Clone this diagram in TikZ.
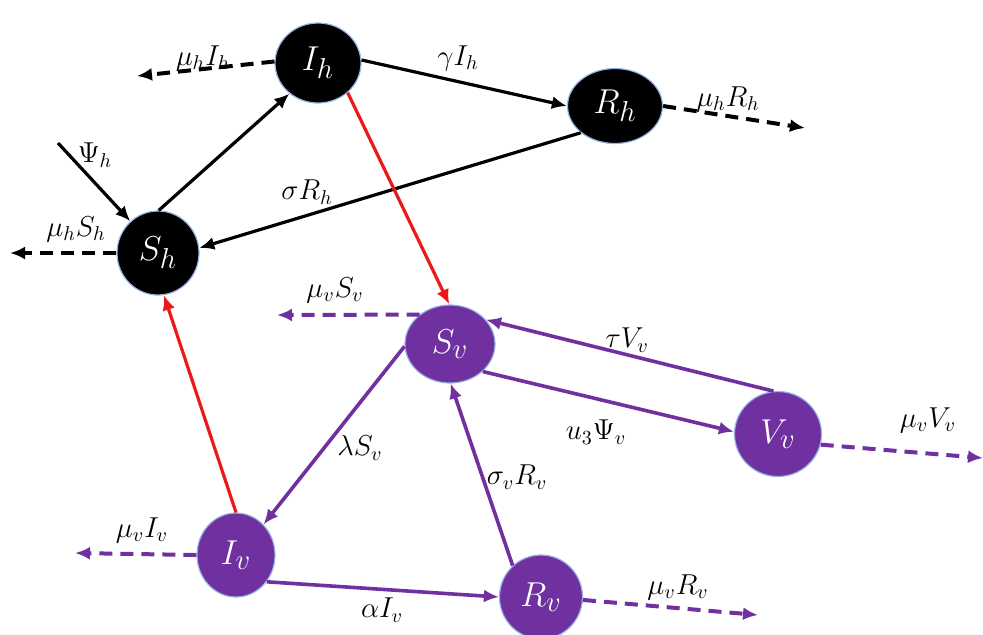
\documentclass[tikz,border=0pt]{standalone}
\usetikzlibrary{arrows.meta,shapes.geometric}
\definecolor{vpurple}{RGB}{112,48,160}
\definecolor{rimblue}{RGB}{150,180,225}
\definecolor{lred}{RGB}{235,25,25}
\begin{document}
\begin{tikzpicture}[x=0.5pt,y=-0.5pt,
  comp/.style={ellipse,inner sep=0pt,draw=rimblue,line width=0.6pt,text=white,font=\fontsize{19}{22}\selectfont},
  hnode/.style={comp,fill=black},
  vnode/.style={comp,fill=vpurple},
  tip/.style={-{Latex[length=7.5pt,width=6.5pt]}},
  hflow/.style={tip,line width=1.6pt,black},
  vflow/.style={tip,line width=1.8pt,vpurple},
  rflow/.style={tip,line width=1.6pt,lred},
  hout/.style={tip,line width=2pt,black,dash pattern=on 6.5pt off 4pt},
  vout/.style={tip,line width=2pt,vpurple,dash pattern=on 6.5pt off 4pt},
  lab/.style={inner sep=0pt,font=\fontsize{14.5}{17}\selectfont}
]
\useasboundingbox (0,0) rectangle (983,634);
% nodes
\node[hnode,minimum width=43pt,minimum height=40pt] (Ih) at (318,63) {$I_h$};
\node[hnode,minimum width=47.5pt,minimum height=37.5pt] (Rh) at (615,106) {$R_h$};
\node[hnode,minimum width=41pt,minimum height=42pt] (Sh) at (158,253) {$S_h$};
\node[vnode,minimum width=45pt,minimum height=39pt] (Sv) at (450,344) {$S_v$};
\node[vnode,minimum width=43.5pt,minimum height=42.5pt] (Vv) at (778,434) {$V_v$};
\node[vnode,minimum width=39pt,minimum height=42pt] (Iv) at (236,555) {$I_v$};
\node[vnode,minimum width=41.5pt,minimum height=42pt] (Rv) at (541,597) {$R_v$};
% free ends
\coordinate (psiS) at (58,143);
\coordinate (oSh) at (10,253);
\coordinate (oIh) at (137,76);
\coordinate (oRh) at (805,128);
\coordinate (oSv) at (277,315);
\coordinate (oVv) at (983,458);
\coordinate (oIv) at (75,553);
\coordinate (oRv) at (758,615);
% human flows
\draw[hflow] (Sh.89) -- (Ih.227);
\draw[hflow] (Ih.4) -- (Rh.180);
\draw[hflow] (Rh.218) -- (Sh.7);
\draw[hflow] (psiS) -- (Sh.131);
\draw[hout] (Sh.180) -- (oSh);
\draw[hout] (Ih.178) -- (oIh);
\draw[hout] (Rh.0) -- (oRh);
% red infection links
\draw[rflow] (Ih.315) -- (Sv.91);
\draw[rflow] (Iv.90) -- (Sh.278);
% vector flows
\draw[vflow] (Vv.96) -- (Sv.34);
\draw[vflow] (Sv.320) -- (Vv.177);
\draw[vflow] (Sv.183) -- (Iv.48);
\draw[vflow] (Rv.132) -- (Sv.271);
\draw[vflow] (Iv.319) -- (Rv.180);
\draw[vout] (Sv.136) -- (oSv);
\draw[vout] (Vv.346) -- (oVv);
\draw[vout] (Iv.180) -- (oIv);
\draw[vout] (Rv.356) -- (oRv);
% labels
\node[lab] (lpsi) at (95,155) {$\Psi_h$};
\node[lab] (lmSh) at (76,229) {$\mu_h S_h$};
\node[lab] (lmIh) at (203,58) {$\mu_h I_h$};
\node[lab] (lgIh) at (458,58) {$\gamma I_h$};
\node[lab] (lmRh) at (728,99) {$\mu_h R_h$};
\node[lab] (lsRh) at (307,192) {$\sigma R_h$};
\node[lab] (lmSv) at (335,290) {$\mu_v S_v$};
\node[lab] (ltVv) at (627,340) {$\tau V_v$};
\node[lab] (luPv) at (596,432) {$u_3\Psi_v$};
\node[lab] (lmVv) at (928,420) {$\mu_v V_v$};
\node[lab] (llSv) at (360,448) {$\lambda S_v$};
\node[lab] (lsRv) at (517,477) {$\sigma_v R_v$};
\node[lab] (lmIv) at (142,530) {$\mu_v I_v$};
\node[lab] (laIv) at (382,610) {$\alpha I_v$};
\node[lab] (lmRv) at (678,587) {$\mu_v R_v$};
\end{tikzpicture}
\end{document}
